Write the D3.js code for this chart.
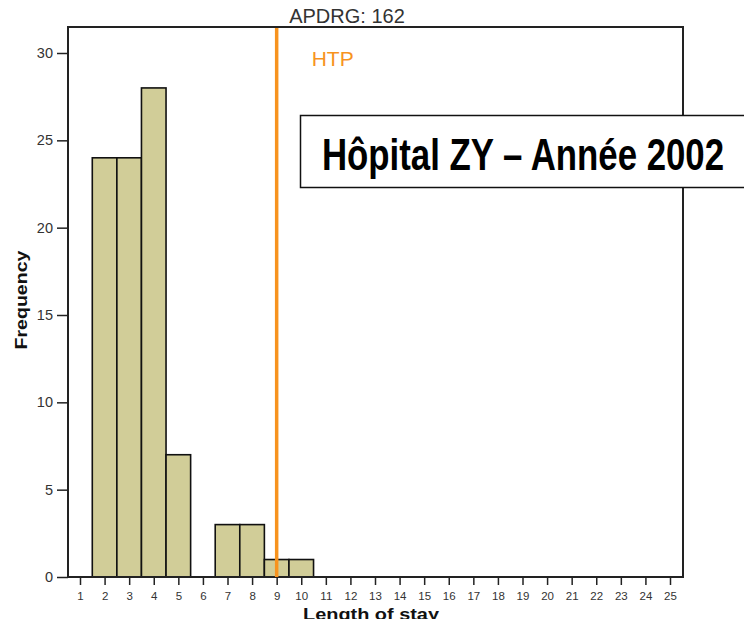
<!DOCTYPE html>
<html>
<head>
<meta charset="utf-8">
<script src="https://cdn.jsdelivr.net/npm/d3@7"></script>
<style>
html,body{margin:0;padding:0;background:#fff;overflow:hidden;}
svg{display:block;}
text{font-family:"Liberation Sans",Arial,sans-serif;}
</style>
</head>
<body>
<script>
const lengthOfStay = [1,2,3,4,5,6,7,8,9,10,11,12,13,14,15,16,17,18,19,20,21,22,23,24,25];
const frequency    = [0,24,24,28,7,0,3,3,1,1,0,0,0,0,0,0,0,0,0,0,0,0,0,0,0];
const yTicks = [0,5,10,15,20,25,30];
const htpValue = 9;
const chartTitle = "APDRG: 162";
const boxLabel = "Hôpital ZY – Année 2002";
const xLabel = "Length of stay";
const yLabel = "Frequency";

const W = 744, H = 619;
const frame = {left:68, top:27, right:683, bottom:577};

const svg = d3.select("body").append("svg").attr("width",W).attr("height",H);

const x = d3.scaleLinear().domain([1,25]).range([80,670]);
const y = d3.scaleLinear().domain([0,30]).range([frame.bottom,53]);
const unit = x(2)-x(1);

// bars
svg.append("g").selectAll("rect")
  .data(lengthOfStay.map((d,i)=>({k:d,v:frequency[i]})).filter(d=>d.v>0))
  .join("rect")
  .attr("x",d=>x(d.k)-unit/2)
  .attr("y",d=>y(d.v))
  .attr("width",unit)
  .attr("height",d=>y(0)-y(d.v))
  .attr("fill","#d1cd98")
  .attr("stroke","#111")
  .attr("stroke-width",1.6);

// frame
svg.append("rect")
  .attr("x",frame.left).attr("y",frame.top)
  .attr("width",frame.right-frame.left).attr("height",frame.bottom-frame.top)
  .attr("fill","none").attr("stroke","#222").attr("stroke-width",2);

// y axis
const yAxis = svg.append("g").attr("transform",`translate(${frame.left},0)`)
  .call(d3.axisLeft(y).tickValues(yTicks).tickSize(11).tickPadding(4).tickFormat(d3.format("d")));
yAxis.select(".domain").remove();
yAxis.selectAll(".tick line").attr("stroke","#222").attr("stroke-width",1.5);
yAxis.selectAll(".tick text").attr("font-size",14.5).attr("fill","#333").attr("font-family","Liberation Sans, Arial, sans-serif");

// x axis
const xAxis = svg.append("g").attr("transform",`translate(0,${frame.bottom})`)
  .call(d3.axisBottom(x).tickValues(lengthOfStay).tickSize(8).tickPadding(7).tickFormat(d3.format("d")));
xAxis.select(".domain").remove();
xAxis.selectAll(".tick line").attr("stroke","#222").attr("stroke-width",1.5);
xAxis.selectAll(".tick text").attr("font-size",11.5).attr("fill","#333").attr("font-family","Liberation Sans, Arial, sans-serif");

// HTP line
svg.append("line")
  .attr("x1",x(htpValue)).attr("x2",x(htpValue))
  .attr("y1",frame.top+1).attr("y2",frame.bottom)
  .attr("stroke","#f7931e").attr("stroke-width",3.5);
svg.append("text").attr("x",x(htpValue)+35).attr("y",65.5)
  .attr("font-size",21).attr("fill","#f7931e").text("HTP");

// title
svg.append("text").attr("x",347).attr("y",23).attr("text-anchor","middle")
  .attr("font-size",20).attr("fill","#333").text(chartTitle);

// axis titles
svg.append("text").attr("transform","translate(27,300) rotate(-90)")
  .attr("text-anchor","middle").attr("font-size",16.5).attr("font-weight","bold")
  .attr("textLength",99).attr("lengthAdjust","spacingAndGlyphs")
  .attr("fill","#111").text(yLabel);
svg.append("text").attr("x",371).attr("y",620).attr("text-anchor","middle")
  .attr("font-size",16.5).attr("font-weight","bold")
  .attr("textLength",136).attr("lengthAdjust","spacingAndGlyphs")
  .attr("fill","#111").text(xLabel);

// annotation box
svg.append("rect").attr("x",300.5).attr("y",115.5).attr("width",460).attr("height",72)
  .attr("fill","#fff").attr("stroke","#111").attr("stroke-width",1.5);
svg.append("text").attr("x",523).attr("y",170).attr("text-anchor","middle")
  .attr("font-size",43.5).attr("font-weight","bold").attr("fill","#000")
  .attr("textLength",402).attr("lengthAdjust","spacingAndGlyphs")
  .text(boxLabel);
</script>
</body>
</html>
